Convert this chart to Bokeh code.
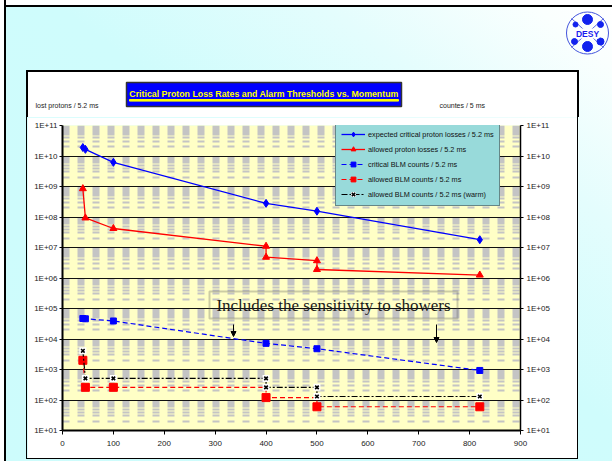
from bokeh.plotting import figure
from bokeh.models import (Range1d, FixedTicker, CustomJSTickFormatter, LogAxis, Legend, LegendItem,
                          BoxAnnotation, Label, Arrow, NormalHead, ColumnDataSource, CDSView, BooleanFilter,
                          Spacer)
from bokeh.layouts import column, row
from bokeh.embed import file_html
from bokeh.resources import INLINE

FONT = "Liberation Sans"

# ---------------- data ----------------
momentum_exp = [40, 45, 100, 400, 500, 820]
expected_losses = [1.9e10, 1.65e10, 6.2e9, 2.8e8, 1.55e8, 1.8e7]

momentum_allowed = [40, 45, 100, 400, 400, 500, 500, 820]
allowed_losses = [8.5e8, 9.3e7, 4.2e7, 1.1e7, 4.8e6, 3.7e6, 1.9e6, 1.25e6]

momentum_crit_blm = [40, 45, 100, 400, 500, 820]
critical_blm = [4.7e4, 4.6e4, 3.9e4, 7.2e3, 4.8e3, 9.3e2]

momentum_blm = [40, 45, 100, 400, 400, 500, 500, 820]
allowed_blm = [2000, 260, 260, 260, 120, 120, 60, 60]
allowed_blm_marker_shown = [True, True, True, False, True, False, True, True]
allowed_blm_warm = [4100, 510, 510, 510, 260, 260, 130, 130]

series_labels = [
    "expected critical proton losses / 5.2 ms",
    "allowed proton losses / 5.2 ms",
    "critical BLM counts / 5.2 ms",
    "allowed BLM counts / 5.2 ms",
    "allowed BLM counts / 5.2 ms (warm)",
]
title_text = "Critical Proton Loss Rates and Alarm Thresholds vs. Momentum"
left_title = "lost protons / 5.2 ms"
right_title = "countes / 5 ms"
note_text = "Includes the sensitivity to showers"

x_ticks = list(range(0, 1000, 100))
y_exponents = list(range(1, 12))

# ---------------- page geometry (page pixels) ----------------
PAGE_W, PAGE_H = 612, 461
TOP_Y1 = 117          # page y where the main plot row starts
ROW_Y1 = 458          # page y where the bottom strip starts
BOX_L, BOX_R, BOX_T = 27, 577, 70

SLIDE_BG = ("linear-gradient(to right, #ffffff 0px, #ffffff 4px, #000000 4px, #000000 6.5px, transparent 6.5px), "
            "linear-gradient(to bottom, #ffffff 0px, #ffffff 5px, #000000 5px, #000000 7.5px, transparent 7.5px), "
            "linear-gradient(to top right, #cdfcfc 0%, #cffcfc 54%, #e4fdfd 76%, #fafffe 93%, #ffffff 100%)")

# ---------------- top part (chart box top, title, axis titles, logo) ----------------
top = figure(width=PAGE_W, height=TOP_Y1, x_range=Range1d(0, PAGE_W), y_range=Range1d(TOP_Y1, 0),
             x_axis_location=None, y_axis_location=None, toolbar_location=None,
             output_backend="svg", min_border=0)
top.grid.visible = False
top.outline_line_color = None
top.background_fill_color = None
top.border_fill_color = None
top.quad(left=[BOX_L], right=[BOX_R], top=[BOX_T], bottom=[TOP_Y1], fill_color="white", line_color=None)
top.quad(left=[BOX_L - 1], right=[BOX_R + 1], top=[BOX_T], bottom=[BOX_T + 1], color="black")
top.quad(left=[BOX_L - 1], right=[BOX_L], top=[BOX_T], bottom=[TOP_Y1], color="black")
top.quad(left=[BOX_R], right=[BOX_R + 1], top=[BOX_T], bottom=[TOP_Y1], color="black")
# title box
top.quad(left=[126], right=[401], top=[82], bottom=[106], fill_color="#0000ff", line_color="#333333", line_width=1.5)
top.add_layout(Label(x=263.5, y=93, text=title_text, text_align="center", text_baseline="middle",
                     text_font=FONT, text_font_style="bold", text_font_size="8.8px", text_color="#ffff00"))
top.quad(left=[129], right=[398], top=[99], bottom=[100.6], color="#ffff00")
top.add_layout(Label(x=35, y=104.5, text=left_title, text_align="left", text_baseline="middle",
                     text_font=FONT, text_font_size="7px", text_color="#222222"))
top.add_layout(Label(x=439, y=104.5, text=right_title, text_align="left", text_baseline="middle",
                     text_font=FONT, text_font_size="7px", text_color="#222222"))
# DESY logo
top.segment(x0=[571, 571], y0=[18, 47], x1=[603, 603], y1=[47, 18], line_color="#3344dd", line_width=0.8)
top.scatter(x=[587], y=[32.5], marker="circle", size=42, fill_color=None, line_color="#4455dd", line_width=1)
top.scatter(x=[587, 587, 575, 600, 574, 600], y=[19, 46, 24, 24, 41, 41], marker="circle",
            size=[10, 10, 5, 6, 6, 7], color="#1122ee")
top.add_layout(Label(x=587, y=33, text="DESY", text_align="center", text_baseline="middle",
                     text_font=FONT, text_font_style="bold", text_font_size="8.5px", text_color="#1a1aee",
                     background_fill_color="white"))

# ---------------- side and bottom spacers (slide background shows through) ----------------
left_sp = Spacer(width=BOX_L, height=ROW_Y1 - TOP_Y1,
                 styles={"border-right": "1px solid black", "box-sizing": "border-box"})
right_sp = Spacer(width=PAGE_W - BOX_R, height=ROW_Y1 - TOP_Y1,
                  styles={"border-left": "1px solid black", "box-sizing": "border-box"})
bottom_sp = Spacer(width=BOX_R - BOX_L + 2, height=PAGE_H - ROW_Y1, margin=(0, 0, 0, BOX_L - 1),
                   styles={"border-top": "1px solid black", "box-sizing": "border-box"})

# ---------------- main chart ----------------
p = figure(width=BOX_R - BOX_L, height=ROW_Y1 - TOP_Y1, x_range=Range1d(0, 900),
           y_range=Range1d(10 ** y_exponents[0], 10 ** y_exponents[-1]), y_axis_type="log",
           toolbar_location=None, output_backend="svg",
           min_border_left=35, min_border_right=57, min_border_top=8, min_border_bottom=28)
p.background_fill_color = "#ffffc6"
p.border_fill_color = "white"
p.outline_line_color = None

yticker = FixedTicker(ticks=[10.0 ** k for k in y_exponents],
                      minor_ticks=[m * 10.0 ** k for k in y_exponents[:-1] for m in range(2, 10)])
yfmt = CustomJSTickFormatter(code="""
const e = Math.round(Math.log10(tick));
return '1E+' + (e < 10 ? '0' + e : '' + e);
""")

ax = p.yaxis[0]
ax.ticker = yticker
ax.formatter = yfmt
ax.axis_line_width = 2
ax.axis_line_color = "black"
ax.major_tick_out = 3
ax.major_tick_in = 0
ax.minor_tick_out = 0
ax.minor_tick_in = 0
ax.major_label_standoff = 2
ax.major_label_text_font = FONT
ax.major_label_text_font_size = "8px"
ax.major_label_text_color = "#222222"

ra = LogAxis(ticker=yticker, formatter=yfmt, axis_line_width=1.5, axis_line_color="black",
             major_tick_out=3, major_tick_in=0, minor_tick_out=0, minor_tick_in=0,
             major_label_standoff=3, major_label_text_font=FONT, major_label_text_font_size="8px",
             major_label_text_color="#222222")
p.add_layout(ra, "right")

xa = p.xaxis[0]
xa.ticker = FixedTicker(ticks=x_ticks)
xa.axis_line_width = 2
xa.axis_line_color = "black"
xa.major_tick_out = 4
xa.major_tick_in = 0
xa.minor_tick_out = 0
xa.minor_tick_in = 0
xa.major_label_standoff = 6
xa.major_label_text_font = FONT
xa.major_label_text_font_size = "8px"
xa.major_label_text_color = "#222222"

p.xgrid.visible = False
yg = p.ygrid[0]
yg.ticker = yticker
yg.grid_line_color = "#111111"
yg.grid_line_width = 1
yg.minor_grid_line_color = "#c4c4c4"
yg.minor_grid_line_width = 2
yg.minor_grid_line_dash = "7 8"

# series
s1 = ColumnDataSource(dict(x=momentum_exp, y=expected_losses))
r1l = p.line("x", "y", source=s1, line_color="#0000ff", line_width=1.3)
r1m = p.scatter("x", "y", source=s1, marker="diamond", size=8, color="#0000ff")

s2 = ColumnDataSource(dict(x=momentum_allowed, y=allowed_losses))
r2l = p.line("x", "y", source=s2, line_color="#ff0000", line_width=1.3)
r2m = p.scatter("x", "y", source=s2, marker="triangle", size=7, color="#ff0000")

s3 = ColumnDataSource(dict(x=momentum_crit_blm, y=critical_blm))
r3l = p.line("x", "y", source=s3, line_color="#0000ff", line_width=1.2, line_dash="5 3")
r3m = p.scatter("x", "y", source=s3, marker="square", size=6, color="#0000ff")

s4 = ColumnDataSource(dict(x=momentum_blm, y=allowed_blm))
r4l = p.line("x", "y", source=s4, line_color="#ff0000", line_width=1.2, line_dash="5 3")
r4m = p.scatter("x", "y", source=s4, marker="square", size=8, color="#ff0000",
                view=CDSView(filter=BooleanFilter(allowed_blm_marker_shown)))

s5 = ColumnDataSource(dict(x=momentum_blm, y=allowed_blm_warm))
r5l = p.line("x", "y", source=s5, line_color="black", line_width=1.2, line_dash="6 2 2 2")
r5b = p.scatter("x", "y", source=s5, marker="square", size=7, fill_color="white", line_color=None)
r5m = p.scatter("x", "y", source=s5, marker="x", size=5, line_color="black", line_width=1.6)

legend = Legend(items=[
    LegendItem(label=series_labels[0], renderers=[r1l, r1m]),
    LegendItem(label=series_labels[1], renderers=[r2l, r2m]),
    LegendItem(label=series_labels[2], renderers=[r3l, r3m]),
    LegendItem(label=series_labels[3], renderers=[r4l, r4m]),
    LegendItem(label=series_labels[4], renderers=[r5l, r5b, r5m]),
], location=(273, 224), background_fill_color="#98dada", background_fill_alpha=1.0,
    border_line_color="#333333", border_line_width=1.5,
    label_text_font=FONT, label_text_font_size="7.3px", label_text_color="#111111",
    label_height=12, glyph_height=12, glyph_width=24, spacing=3, padding=5, label_standoff=3, margin=0)
p.add_layout(legend)

# annotation box + arrows (positions in page pixels, converted to data units)
FR_L, FR_R, FR_T, FR_B = 62.0, 520.0, 125.0, 430.0


def dx(X):
    return (X - FR_L) * 900.0 / (FR_R - FR_L)


def dy(Y):
    return 10 ** (11 - 10 * (Y - FR_T) / (FR_B - FR_T))


p.add_layout(BoxAnnotation(left=dx(209), right=dx(457), top=dy(291), bottom=dy(318),
                           fill_color=None, fill_alpha=0, line_color="#555555", line_width=2))
p.add_layout(Label(x=dx(333), y=dy(304.5), text=note_text, text_align="center", text_baseline="middle",
                   text_font="Liberation Serif", text_font_size="17px", text_color="#1a1a1a"))
p.add_layout(Arrow(end=NormalHead(size=5, fill_color="black", line_color="black"),
                   x_start=dx(233), y_start=dy(324), x_end=dx(233), y_end=dy(336),
                   line_color="black", line_width=1))
p.add_layout(Arrow(end=NormalHead(size=5, fill_color="black", line_color="black"),
                   x_start=dx(436), y_start=dy(324), x_end=dx(436), y_end=dy(342),
                   line_color="black", line_width=1))

layout = column(top, row(left_sp, p, right_sp), bottom_sp,
                styles={"background": SLIDE_BG})

open("out.html", "w").write(file_html(layout, INLINE))
